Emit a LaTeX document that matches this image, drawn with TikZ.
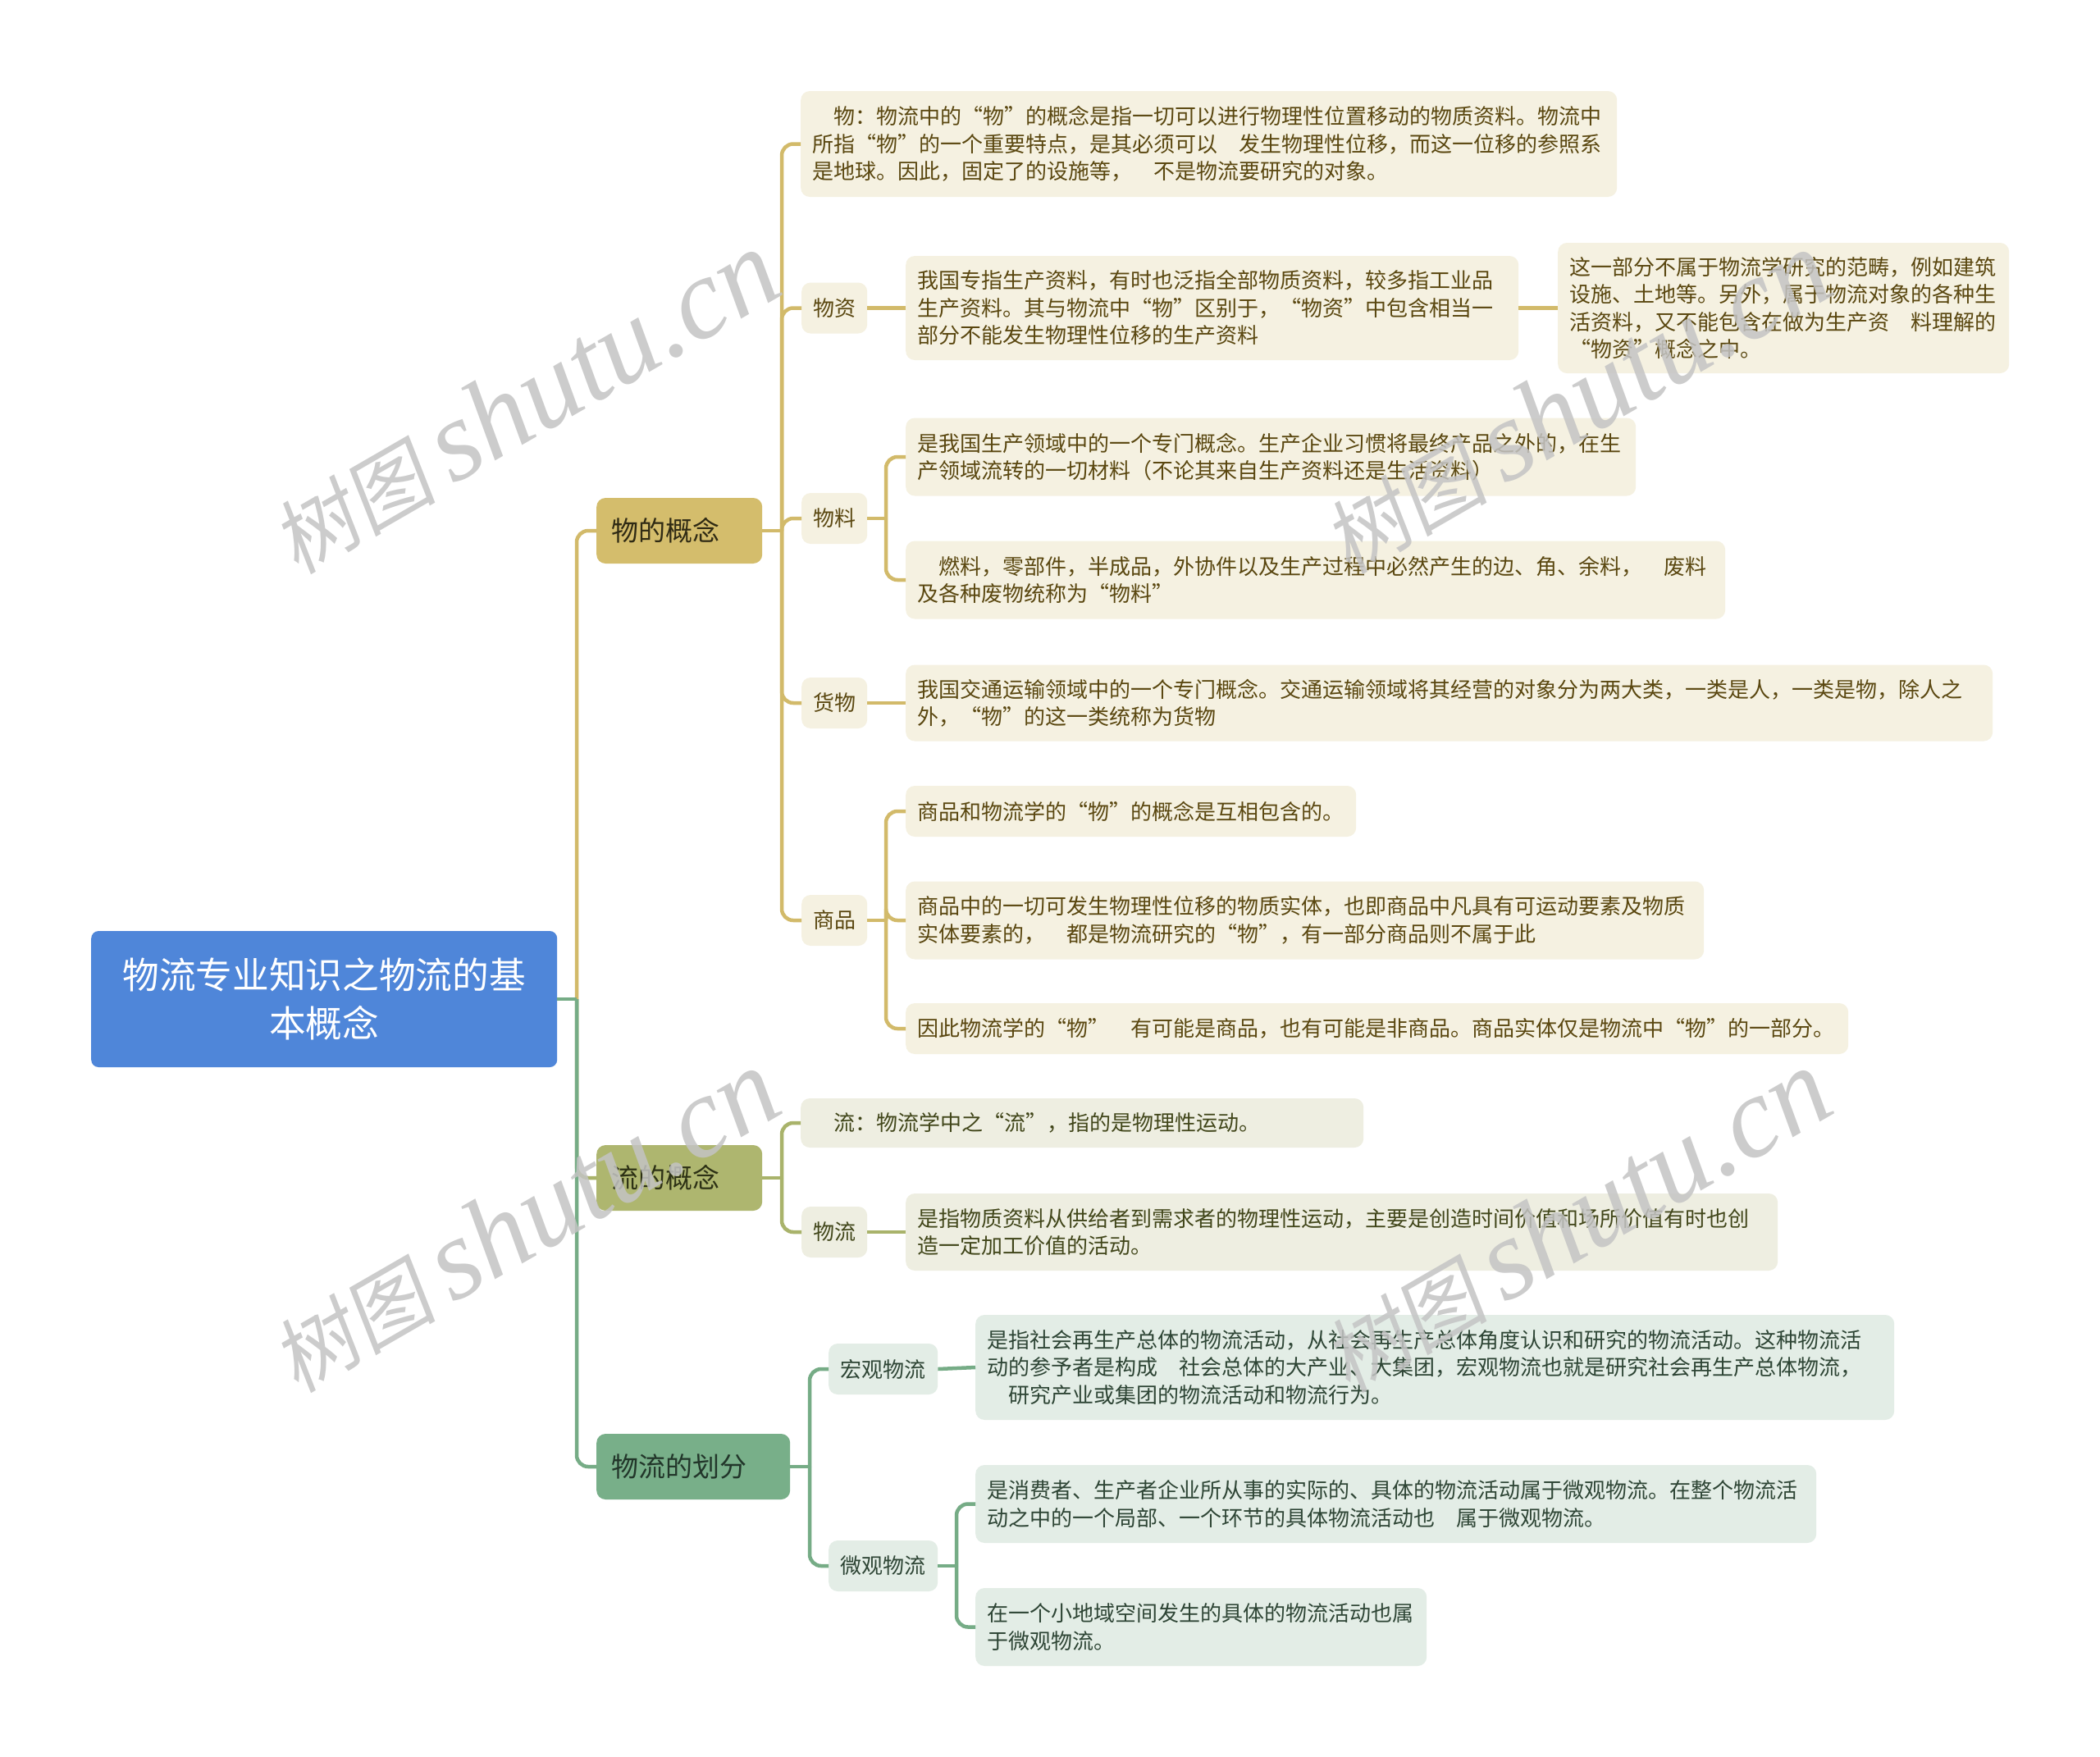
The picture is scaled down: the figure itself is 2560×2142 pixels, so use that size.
\documentclass[tikz,border=0pt]{standalone}
\usepackage{fontspec}
\setmainfont{Noto Sans CJK SC}
\newfontfamily\wmcjk[FakeSlant=0.15]{Noto Sans CJK SC}
\newfontfamily\wmlatin{Liberation Serif}
\definecolor{rootblue}{HTML}{4F86D9}
\definecolor{goldbox}{HTML}{D4BD6C}
\definecolor{goldline}{HTML}{D2BA6A}
\definecolor{goldcream}{HTML}{F5F1E1}
\definecolor{goldtext}{HTML}{5A4710}
\definecolor{goldhead}{HTML}{2F2A14}
\definecolor{olivebox}{HTML}{AEB66F}
\definecolor{oliveline}{HTML}{A9B36B}
\definecolor{olivecream}{HTML}{EEEEE1}
\definecolor{olivetext}{HTML}{41461A}
\definecolor{olivehead}{HTML}{2D3115}
\definecolor{greenbox}{HTML}{78AF89}
\definecolor{greenline}{HTML}{76AC86}
\definecolor{greencream}{HTML}{E3EDE6}
\definecolor{greentext}{HTML}{2E4535}
\definecolor{greenhead}{HTML}{22362A}
\definecolor{wmgray}{HTML}{C4C4C4}
\tikzset{
  detbase/.style={rounded corners=11pt, inner xsep=14pt, inner ysep=0pt, align=left, anchor=west,
    font=\fontsize{26pt}{33.5pt}\selectfont},
  labbase/.style={rounded corners=11pt, inner sep=0pt, align=center, anchor=west,
    minimum width=80pt, minimum height=62pt, font=\fontsize{26pt}{33.5pt}\selectfont},
  headbase/.style={rounded corners=11pt, inner xsep=18pt, inner ysep=0pt, align=left, anchor=west,
    minimum height=80pt, font=\fontsize{33pt}{40pt}\selectfont},
  gdet/.style={detbase, fill=goldcream, text=goldtext},
  odet/.style={detbase, fill=olivecream, text=olivetext},
  vdet/.style={detbase, fill=greencream, text=greentext},
  glab/.style={labbase, fill=goldcream, text=goldtext},
  olab/.style={labbase, fill=olivecream, text=olivetext},
  vlab/.style={labbase, fill=greencream, text=greentext},
  ghead/.style={headbase, fill=goldbox, text=goldhead},
  ohead/.style={headbase, fill=olivebox, text=olivehead},
  vhead/.style={headbase, fill=greenbox, text=greenhead},
  rootbox/.style={rounded corners=9pt, fill=rootblue, text=white, align=center, anchor=west,
    inner sep=0pt, minimum width=568pt, minimum height=166pt, font=\fontsize{44.7pt}{59pt}\selectfont},
  conn/.style={line width=4.5pt, rounded corners=14pt},
  gl/.style={conn, draw=goldline},
  ol/.style={conn, draw=oliveline},
  vl/.style={conn, draw=greenline},
  wm/.style={text=wmgray, text opacity=0.85, inner sep=0pt, anchor=base west, rotate=30}
}
\begin{document}
\begin{tikzpicture}[x=1pt,y=-1pt]
\useasboundingbox (0,0) rectangle (2560,2142);
\fill[white] (0,0) rectangle (2560,2142);

% root and main branches
\node[rootbox] (root) at (111,1218) {物流专业知识之物流的基\\本概念};
\node[ghead, text width=166pt] (c1) at (727,647) {物的概念};
\node[ohead, text width=166pt] (c2) at (727,1436) {流的概念};
\node[vhead, text width=200pt] (c3) at (727,1788) {物流的划分};

% branch 1
\node[gdet, text width=967pt, minimum height=129pt] (d1) at (976,175.5) {\hspace*{1em}物：物流中的“物”的概念是指一切可以进行物理性位置移动的物质资料。物流中\\所指“物”的一个重要特点，是其必须可以\hspace{1em}发生物理性位移，而这一位移的参照系\\是地球。因此，固定了的设施等，\hspace{1em}不是物流要研究的对象。};
\node[glab] (k1) at (977,375.5) {物资};
\node[gdet, text width=719pt, minimum height=127pt] (d2) at (1104,375.5) {我国专指生产资料，有时也泛指全部物质资料，较多指工业品\\生产资料。其与物流中“物”区别于，“物资”中包含相当一\\部分不能发生物理性位移的生产资料};
\node[gdet, text width=522pt, minimum height=159pt] (d3) at (1899,375.5) {这一部分不属于物流学研究的范畴，例如建筑\\设施、土地等。另外，属于物流对象的各种生\\活资料，又不能包含在做为生产资\hspace{1em}料理解的\\“物资”概念之中。};
\node[glab] (k2) at (977,632) {物料};
\node[gdet, text width=862pt, minimum height=95pt] (d4) at (1104,557) {是我国生产领域中的一个专门概念。生产企业习惯将最终产品之外的，在生\\产领域流转的一切材料（不论其来自生产资料还是生活资料）};
\node[gdet, text width=971pt, minimum height=95pt] (d5) at (1104,707) {\hspace*{1em}燃料，零部件，半成品，外协件以及生产过程中必然产生的边、角、余料，\hspace{1em}废料\\及各种废物统称为“物料”};
\node[glab] (k3) at (977,857) {货物};
\node[gdet, text width=1297pt, minimum height=93pt] (d6) at (1104,857) {我国交通运输领域中的一个专门概念。交通运输领域将其经营的对象分为两大类，一类是人，一类是物，除人之\\外，“物”的这一类统称为货物};
\node[glab] (k4) at (977,1122) {商品};
\node[gdet, text width=521pt, minimum height=62pt] (d7) at (1104,989) {商品和物流学的“物”的概念是互相包含的。};
\node[gdet, text width=945pt, minimum height=95pt] (d8) at (1104,1122) {商品中的一切可发生物理性位移的物质实体，也即商品中凡具有可运动要素及物质\\实体要素的，\hspace{1em}都是物流研究的“物”，有一部分商品则不属于此};
\node[gdet, text width=1121pt, minimum height=62pt] (d9) at (1104,1254) {因此物流学的“物”\hspace{1em}有可能是商品，也有可能是非商品。商品实体仅是物流中“物”的一部分。};

% branch 2
\node[odet, text width=658pt, minimum height=60pt] (d10) at (976,1369) {\hspace*{1em}流：物流学中之“流”，指的是物理性运动。};
\node[olab] (k5) at (977,1502) {物流};
\node[odet, text width=1035pt, minimum height=94pt] (d11) at (1104,1502) {是指物质资料从供给者到需求者的物理性运动，主要是创造时间价值和场所价值有时也创\\造一定加工价值的活动。};

% branch 3
\node[vlab, minimum width=133pt] (k6) at (1010,1669) {宏观物流};
\node[vdet, text width=1092pt, minimum height=128pt] (d12) at (1189,1667) {是指社会再生产总体的物流活动，从社会再生产总体角度认识和研究的物流活动。这种物流活\\动的参予者是构成\hspace{1em}社会总体的大产业、大集团，宏观物流也就是研究社会再生产总体物流，\\\hspace*{1em}研究产业或集团的物流活动和物流行为。};
\node[vlab, minimum width=133pt] (k7) at (1010,1909) {微观物流};
\node[vdet, text width=997pt, minimum height=95pt] (d13) at (1189,1833.5) {是消费者、生产者企业所从事的实际的、具体的物流活动属于微观物流。在整个物流活\\动之中的一个局部、一个环节的具体物流活动也\hspace{1em}属于微观物流。};
\node[vdet, text width=522pt, minimum height=95pt] (d14) at (1189,1983.5) {在一个小地域空间发生的具体的物流活动也属\\于微观物流。};

% junctions
\coordinate (jr) at (703,1218);
\coordinate (j1) at (953,647);
\coordinate (j2) at (1080,632);
\coordinate (j3) at (1080,1122);
\coordinate (j4) at (953,1436);
\coordinate (j5) at (987,1788);
\coordinate (j6) at (1166,1909);

% root connectors
\draw[ol] (jr) |- (c2.west);
\draw[gl] (jr) |- (c1.west);
\draw[vl] (jr) |- (c3.west);
\draw[vl] (root.east) -- (jr);

% branch 1 connectors
\draw[gl] (c1.east) -- (j1);
\foreach \t in {d1,k1,k2,k3,k4} \draw[gl] (j1) |- (\t.west);
\draw[gl] (k1.east) -- (d2.west);
\draw[gl] (d2.east) -- (d3.west);
\draw[gl] (k2.east) -- (j2);
\foreach \t in {d4,d5} \draw[gl] (j2) |- (\t.west);
\draw[gl] (k3.east) -- (d6.west);
\draw[gl] (k4.east) -- (j3);
\foreach \t in {d7,d8,d9} \draw[gl] (j3) |- (\t.west);

% branch 2 connectors
\draw[ol] (c2.east) -- (j4);
\foreach \t in {d10,k5} \draw[ol] (j4) |- (\t.west);
\draw[ol] (k5.east) -- (d11.west);

% branch 3 connectors
\draw[vl] (c3.east) -- (j5);
\foreach \t in {k6,k7} \draw[vl] (j5) |- (\t.west);
\draw[vl] (k6.east) -- (d12.west);
\draw[vl] (k7.east) -- (j6);
\foreach \t in {d13,d14} \draw[vl] (j6) |- (\t.west);

% watermarks
\foreach \i/\dx/\dy in {1/0/0,2/1282/0,3/0/998,4/1282/998}
  \node[wm] (wm\i) at (362+\dx,702+\dy) {\fontsize{100pt}{100pt}\wmcjk 树图\hspace{20pt}\fontsize{140pt}{140pt}\wmlatin\itshape shutu.cn};
\end{tikzpicture}
\end{document}
